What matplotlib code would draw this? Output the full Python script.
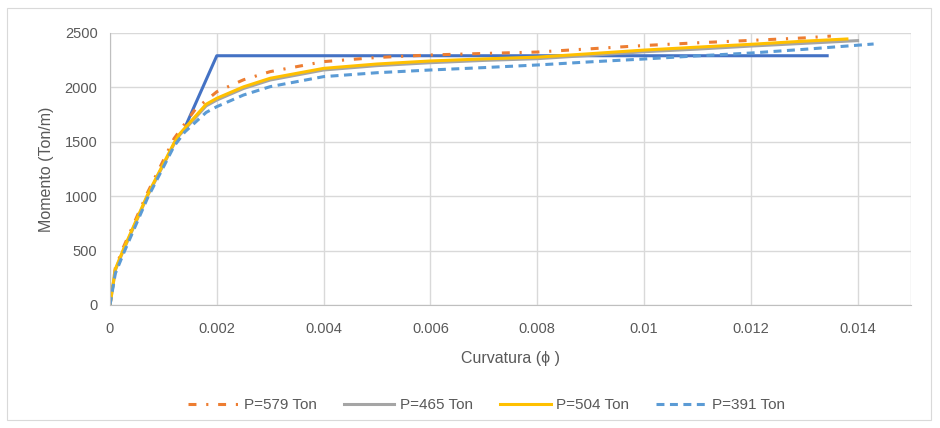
import matplotlib
matplotlib.use('Agg')
import matplotlib.pyplot as plt
from matplotlib.patches import Rectangle

plt.rcParams['font.family'] = ['Liberation Sans', 'DejaVu Sans']

# bilinear idealisation (no legend entry)
bil_x = [0.00142, 0.002, 0.01343]
bil_y = [1650, 2291, 2291]

# P=579 Ton
p579_x = [0, 0.0001, 0.00025, 0.0007, 0.0012, 0.0016, 0.002, 0.0025, 0.003, 0.004,
          0.005, 0.006, 0.007, 0.008, 0.009, 0.010, 0.011, 0.012, 0.013, 0.0135]
p579_y = [0, 340, 530, 1030, 1530, 1800, 1960, 2070, 2145, 2237,
          2275, 2298, 2312, 2325, 2355, 2385, 2410, 2432, 2455, 2472]

# P=465 Ton
p465_x = [0, 0.0001, 0.00025, 0.0007, 0.0012, 0.0013, 0.0018, 0.002, 0.0025, 0.003, 0.004,
          0.005, 0.006, 0.007, 0.008, 0.009, 0.010, 0.011, 0.012, 0.013, 0.014]
p465_y = [0, 320, 500, 1000, 1480, 1560, 1830, 1884, 1990, 2068, 2160,
          2200, 2227, 2248, 2264, 2295, 2328, 2352, 2380, 2405, 2430]

# P=504 Ton
p504_x = [0, 0.0001, 0.00025, 0.0007, 0.0012, 0.0013, 0.0018, 0.002, 0.0025, 0.003, 0.004,
          0.005, 0.006, 0.007, 0.008, 0.009, 0.010, 0.011, 0.012, 0.013, 0.0138]
p504_y = [0, 330, 510, 1010, 1490, 1570, 1845, 1900, 2005, 2084, 2175,
          2215, 2243, 2262, 2278, 2310, 2343, 2370, 2396, 2425, 2445]

# P=391 Ton
p391_x = [0, 0.0001, 0.00025, 0.0007, 0.0012, 0.0014, 0.0018, 0.002, 0.0025, 0.003, 0.004,
          0.005, 0.006, 0.007, 0.008, 0.009, 0.010, 0.011, 0.012, 0.013, 0.0143]
p391_y = [0, 290, 470, 980, 1460, 1590, 1770, 1823, 1930, 2007, 2099,
          2135, 2160, 2182, 2206, 2235, 2261, 2290, 2316, 2350, 2399]

x_ticks = [0, 0.002, 0.004, 0.006, 0.008, 0.01, 0.012, 0.014]
x_labels = ['0', '0.002', '0.004', '0.006', '0.008', '0.01', '0.012', '0.014']
y_ticks = [0, 500, 1000, 1500, 2000, 2500]

txt = '#595959'
grid = '#d9d9d9'

fig = plt.figure(figsize=(9.4, 4.28), dpi=100, facecolor='white')
fig.patches.append(Rectangle((7 / 940, 8 / 428), 924 / 940, 412 / 428, transform=fig.transFigure,
                             fill=False, edgecolor='#d9d9d9', linewidth=0.8))
ax = fig.add_axes([110 / 940, 1 - 305 / 428, 801 / 940, 272 / 428])

lw = 2.2
ax.plot(bil_x, bil_y, color='#4472C4', lw=lw)
ax.plot(p579_x, p579_y, color='#ED7D31', lw=lw, linestyle=(0, (2.6, 3.2, 0.7, 3.2)), label='P=579 Ton')
ax.plot(p465_x, p465_y, color='#A5A5A5', lw=lw, label='P=465 Ton')
ax.plot(p504_x, p504_y, color='#FFC000', lw=lw, label='P=504 Ton')
ax.plot(p391_x, p391_y, color='#5B9BD5', lw=lw, linestyle=(0, (2.6, 1.8)), label='P=391 Ton')

ax.set_xlim(0, 0.015)
ax.set_ylim(0, 2500)
ax.set_xticks(x_ticks)
ax.set_xticklabels(x_labels)
ax.set_yticks(y_ticks)
ax.set_xticks([0.015], minor=True)
ax.grid(True, which='both', color=grid, lw=1)
ax.set_axisbelow(True)
for s in ['top', 'right']:
    ax.spines[s].set_visible(False)
for s in ['left', 'bottom']:
    ax.spines[s].set_color('#bfbfbf')
ax.tick_params(which='both', length=0, labelsize=10.5, colors=txt)
ax.tick_params(axis='x', pad=12)
ax.tick_params(axis='y', pad=9)

ax.set_xlabel('Curvatura (ϕ )', fontsize=11.5, color=txt, labelpad=11)
ax.set_ylabel('Momento (Ton/m)', fontsize=11.5, color=txt, labelpad=8)

ax.legend(loc='center', bbox_to_anchor=(0.47, -0.368), ncol=4, frameon=False,
          fontsize=11, labelcolor=txt, handlelength=3.3, columnspacing=1.8, handletextpad=0.35)

fig.savefig('out.png', dpi=100, facecolor='white')
